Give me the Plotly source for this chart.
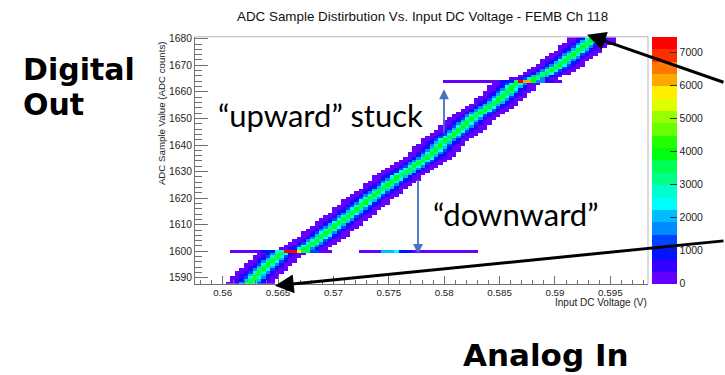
import numpy as np
import plotly.graph_objects as go

# ---------------- data ----------------
adc_codes = list(range(1588, 1681))
# voltage (V) of the brightest bin in each ADC-code row
band_center_v = [
    0.56246, 0.56268, 0.56291, 0.56309, 0.56332, 0.56363, 0.56391, 0.56413, 0.56440, 0.56467,
    0.56490, 0.56517, 0.56608, 0.56743, 0.56779, 0.56815, 0.56847, 0.56883, 0.56915, 0.56942,
    0.56969, 0.57001, 0.57033, 0.57064, 0.57096, 0.57127, 0.57159, 0.57191, 0.57222, 0.57250,
    0.57277, 0.57304, 0.57335, 0.57367, 0.57399, 0.57430, 0.57467, 0.57494, 0.57525, 0.57557,
    0.57584, 0.57625, 0.57665, 0.57702, 0.57733, 0.57765, 0.57801, 0.57837, 0.57873, 0.57901,
    0.57923, 0.57946, 0.57968, 0.57991, 0.58018, 0.58054, 0.58090, 0.58122, 0.58154, 0.58176,
    0.58199, 0.58226, 0.58253, 0.58289, 0.58326, 0.58362, 0.58398, 0.58434, 0.58470, 0.58497,
    0.58524, 0.58552, 0.58574, 0.58597, 0.58624, 0.58651, 0.58687, 0.58814, 0.58868, 0.58922,
    0.58968, 0.59004, 0.59040, 0.59071, 0.59103, 0.59135, 0.59166, 0.59198, 0.59230, 0.59257,
    0.59289, 0.59316, 0.59343,
]
# counts across the band vs distance from its centre (in ADC codes)
profile_offset_codes = [0, 1, 2, 3, 4, 5, 6, 7]
profile_counts = [4200, 3200, 2000, 1100, 550, 250, 90, 0]
volts_per_code = 0.00031
voltage_bin_width = 0.0004
voltage_first_bin = 0.5577
voltage_last_bin = 0.5985

# stuck-code rows: segment edges (V) and counts
stuck_1600_edges_v = [0.56083, 0.56354, 0.56481, 0.56535, 0.56671, 0.56707, 0.56770, 0.56861, 0.56978]
stuck_1600_counts = [150, 900, 2800, 7300, 5800, 3500, 1200, 200]
stuck_1600b_edges_v = [0.57222, 0.57448, 0.57539, 0.57584, 0.57720, 0.58307]
stuck_1600b_counts = [200, 2000, 2500, 1000, 180]
stuck_1664_edges_v = [0.57973, 0.58524, 0.58615, 0.58660, 0.58723, 0.58778, 0.58841, 0.58913, 0.59004, 0.59067]
stuck_1664_counts = [200, 1100, 3500, 7200, 6000, 4000, 1800, 600, 150]

x_tick_vals = [0.56, 0.565, 0.57, 0.575, 0.58, 0.585, 0.59, 0.595]
x_tick_labels = ["0.56", "0.565", "0.57", "0.575", "0.58", "0.585", "0.59", "0.595"]
y_tick_vals = [1590, 1600, 1610, 1620, 1630, 1640, 1650, 1660, 1670, 1680]
z_tick_vals = [0, 1000, 2000, 3000, 4000, 5000, 6000, 7000]
z_max = 7480

# ROOT "pretty palette" with 20 contour levels
palette_colors = [
    "#6300ff", "#3300ff", "#0014ff", "#0044ff", "#008bff", "#00bbff", "#00fffc", "#00ffcc",
    "#00ff85", "#00ff55", "#00ff0e", "#22ff00", "#69ff00", "#99ff00", "#e0ff00", "#ffee00",
    "#ffa700", "#ff7700", "#ff3000", "#ff0000",
]

# ---------------- build histogram ----------------
x_centers = np.arange(voltage_first_bin, voltage_last_bin, voltage_bin_width)
z = np.full((len(adc_codes), len(x_centers)), np.nan)

def fill_segments(row, edges, counts):
    for a, b, c in zip(edges[:-1], edges[1:], counts):
        m = (x_centers >= a) & (x_centers < b)
        z[row, m] = c

for i, code in enumerate(adc_codes):
    if code == 1600:
        fill_segments(i, stuck_1600_edges_v, stuck_1600_counts)
        fill_segments(i, stuck_1600b_edges_v, stuck_1600b_counts)
    elif code == 1664:
        fill_segments(i, stuck_1664_edges_v, stuck_1664_counts)
    else:
        d = np.abs(x_centers - band_center_v[i]) / volts_per_code
        vals = np.interp(d, profile_offset_codes, profile_counts)
        vals = np.where(vals > 0, vals, np.nan)
        z[i, :] = vals

n = len(palette_colors)
colorscale = []
for k, c in enumerate(palette_colors):
    colorscale.append([k / n, c])
    colorscale.append([(k + 1) / n, c])

W, H = 725, 375
def px(x):
    return x / W
def py(y):
    return 1 - y / H

fig = go.Figure()
fig.add_trace(go.Heatmap(
    x=x_centers, y=adc_codes, z=z,
    colorscale=colorscale, zmin=0, zmax=z_max, zsmooth=False,
    hoverongaps=False,
    colorbar=dict(
        x=px(652), xanchor="left", xpad=0, ypad=0,
        y=py(34), yanchor="top", len=(283 - 34) / H, lenmode="fraction",
        thickness=25, thicknessmode="pixels", outlinewidth=0,
        tickvals=z_tick_vals, ticks="inside", ticklen=7, tickcolor="#333",
        tickfont=dict(family="Liberation Sans", size=10.5, color="#222"),
    ),
))

axis_col = "#707070"
fig.update_layout(
    width=W, height=H, margin=dict(l=0, r=0, t=0, b=0),
    paper_bgcolor="white", plot_bgcolor="white",
    showlegend=False,
    xaxis=dict(
        domain=[px(195), px(648)], range=[0.5575, 0.5984],
        tickvals=x_tick_vals, ticktext=x_tick_labels,
        ticks="inside", ticklen=7.5, tickcolor=axis_col, tickwidth=1,
        minor=dict(dtick=0.001, tick0=0.56, ticks="inside", ticklen=3.7, tickcolor=axis_col),
        showline=True, linecolor=axis_col, linewidth=1, mirror=False,
        showgrid=False, zeroline=False,
        tickfont=dict(family="Liberation Sans", size=9.8, color="#222"),
    ),
    yaxis=dict(
        domain=[py(283), py(34)], range=[1587.8, 1680.75],
        tickvals=y_tick_vals,
        ticks="inside", ticklen=13, tickcolor=axis_col, tickwidth=1,
        minor=dict(dtick=2, tick0=1590, ticks="inside", ticklen=6.5, tickcolor=axis_col),
        showline=True, linecolor=axis_col, linewidth=1, mirror=False,
        showgrid=False, zeroline=False,
        tickfont=dict(family="Liberation Sans", size=10.3, color="#222"),
    ),
)

# frame top and right
fig.add_shape(type="line", xref="paper", yref="paper", x0=px(195), x1=px(648), y0=py(34), y1=py(34),
              line=dict(color="#b8b8b8", width=1))
fig.add_shape(type="line", xref="paper", yref="paper", x0=px(648), x1=px(648), y0=py(34), y1=py(283),
              line=dict(color="#b8b8b8", width=1))

ann = []
ann.append(dict(text="ADC Sample Distirbution Vs. Input DC Voltage - FEMB Ch 118",
                x=px(422), y=py(14), xanchor="center", yanchor="middle",
                font=dict(family="Liberation Sans", size=13.4, color="#111")))
ann.append(dict(text="ADC Sample Value (ADC counts)", textangle=-90,
                x=px(161), y=py(111), xanchor="center", yanchor="middle",
                font=dict(family="Liberation Sans", size=9.7, color="#222")))
ann.append(dict(text="Input DC Voltage (V)",
                x=px(649), y=py(302), xanchor="right", yanchor="middle",
                font=dict(family="Liberation Sans", size=10, color="#222")))
ann.append(dict(text="Digital", x=px(21), y=py(67), xanchor="left", yanchor="middle",
                font=dict(family="DejaVu Sans", size=30, color="black", weight="bold")))
ann.append(dict(text="Out", x=px(21), y=py(102), xanchor="left", yanchor="middle",
                font=dict(family="DejaVu Sans", size=30, color="black", weight="bold")))
ann.append(dict(text="Analog In", x=px(461), y=py(355), xanchor="left", yanchor="middle",
                font=dict(family="DejaVu Sans", size=31, color="black", weight="bold")))
ann.append(dict(text="\u201cupward\u201d stuck", x=px(216), y=py(113), xanchor="left", yanchor="middle",
                font=dict(family="Lato", size=31, color="black")))
ann.append(dict(text="\u201cdownward\u201d", x=px(431), y=py(213), xanchor="left", yanchor="middle",
                font=dict(family="Lato", size=31, color="black")))

for a in ann:
    a.update(xref="paper", yref="paper", showarrow=False)

blue = "#4472c4"
arrows = [
    dict(x=px(444), y=py(87), ax=0, ay=45, arrowcolor=blue, arrowwidth=1.8, arrowsize=1.1),
    dict(x=px(418), y=py(253), ax=0, ay=-76, arrowcolor=blue, arrowwidth=1.8, arrowsize=1.1),
    dict(x=px(587), y=py(32), ax=143, ay=48, arrowcolor="black", arrowwidth=3, arrowsize=1.25),
    dict(x=px(275), y=py(285), ax=455, ay=-45, arrowcolor="black", arrowwidth=3, arrowsize=1.25),
]
for a in arrows:
    a.update(xref="paper", yref="paper", axref="pixel", ayref="pixel", text="",
             showarrow=True, arrowhead=2, standoff=0)
    ann.append(a)

fig.update_layout(annotations=ann)
fig.write_html("out.html")
